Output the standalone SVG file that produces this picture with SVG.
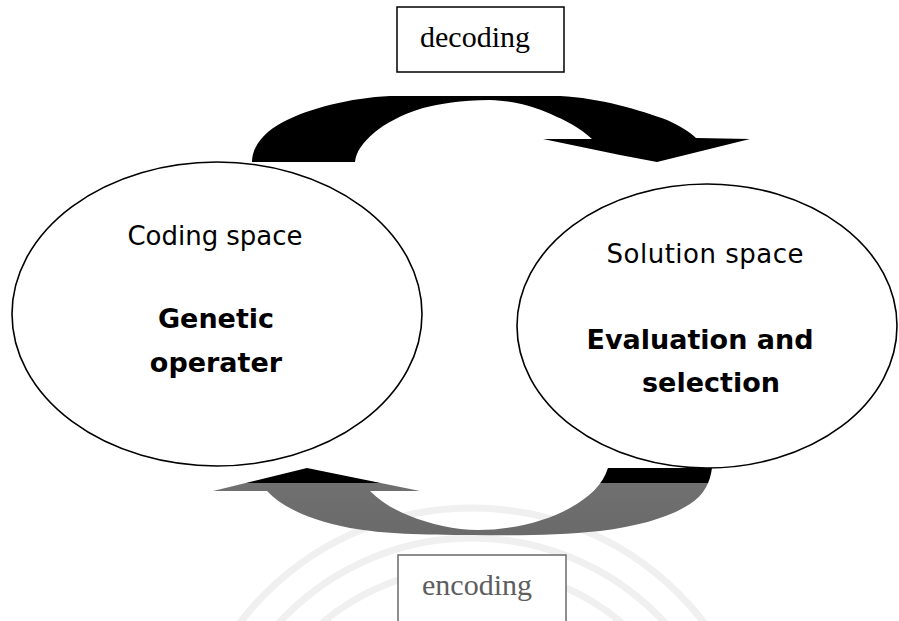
<svg xmlns="http://www.w3.org/2000/svg" width="899" height="621" viewBox="0 0 899 621">
  <style>
    .space { fill: #ffffff; stroke: #000000; stroke-width: 1.6; }
    .label { font-family: "DejaVu Sans", "Noto Sans", sans-serif; fill: #000000; text-anchor: middle; }
    .title { font-size: 26px; }
    .body { font-size: 27px; font-weight: bold; }
    .box { fill: #ffffff; stroke-width: 1.5; }
    .boxtext { font-family: "Liberation Serif", "DejaVu Serif", serif; font-size: 30px; text-anchor: middle; }
    .seal { fill: none; stroke: #f0f0f0; stroke-width: 7; }
  </style>
  <defs>
    <!-- lower loop: dark upper band, grey body -->
    <linearGradient id="lowerShade" gradientUnits="userSpaceOnUse" x1="0" y1="468" x2="0" y2="536">
      <stop offset="0" stop-color="#000000"/>
      <stop offset="0.22" stop-color="#000000"/>
      <stop offset="0.22" stop-color="#707070"/>
      <stop offset="1" stop-color="#6a6a6a"/>
    </linearGradient>
  </defs>
  <rect width="899" height="621" fill="#ffffff"/>

  <!-- faint background seal -->
  <g id="seal">
    <circle class="seal" cx="472" cy="800" r="292"/>
    <circle class="seal" cx="472" cy="800" r="262"/>
    <circle class="seal" cx="472" cy="800" r="232"/>
  </g>

  <g id="coding-space">
    <ellipse class="space" cx="217" cy="314" rx="205" ry="152"/>
    <text class="label title" x="215" y="245" textLength="175">Coding space</text>
    <text class="label body" x="216" y="328">Genetic</text>
    <text class="label body" x="216" y="372">operater</text>
  </g>

  <g id="solution-space">
    <ellipse class="space" cx="707" cy="326" rx="190" ry="142"/>
    <text class="label title" x="705" y="263" textLength="197">Solution space</text>
    <text class="label body" x="700" y="349">Evaluation and</text>
    <text class="label body" x="711" y="392">selection</text>
  </g>

  <g id="decoding">
    <rect class="box" x="397" y="7" width="167" height="65" stroke="#000000"/>
    <text class="boxtext" x="475" y="47" fill="#000000">decoding</text>
  </g>

  <g id="encoding">
    <rect class="box" x="398" y="555" width="168" height="90" stroke="#6a6a6a"/>
    <text class="boxtext" x="477" y="595" fill="#5e5e5e">encoding</text>
  </g>

  <g id="connectors">
    <!-- decoding: coding space to solution space -->
    <path fill="#000000" d="M252,162 C252,148 262,133 283,122 C310,108 350,98 390,96 L560,96 C600,98 640,110 667,120 C680,126 690,132 696,138 L750,139 L657,162 L620,155 L543,139 L592,139 C580,128 565,120 557,117 C540,109 520,101 490,100 C460,100 440,104 423,108 C400,115 385,124 375,132 C362,143 356,152 355,162 Z"/>
    <!-- encoding: solution space back to coding space -->
    <path fill="url(#lowerShade)" d="M213,491 L307,468 L420,491 L370,491 C382,503 395,510 410,516 C430,524 455,530 478,530 C510,530 545,522 570,508 C590,497 603,484 608,468 L712,468 C710,482 705,494 690,504 C670,517 640,526 600,531 C560,535 520,536 473,535 C420,535 385,534 350,528 C310,520 283,508 267,491 Z"/>
  </g>
</svg>
